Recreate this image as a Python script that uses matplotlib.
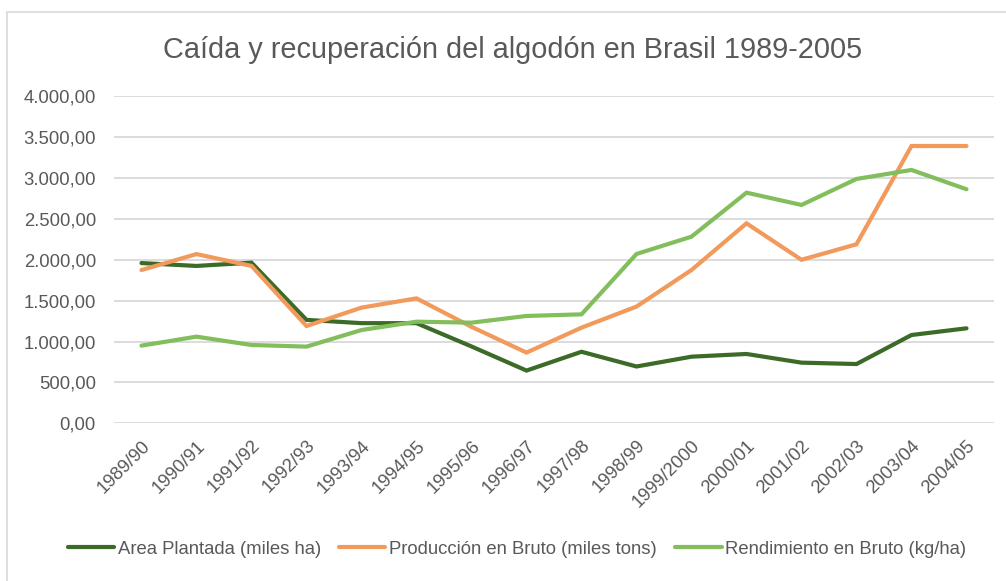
import matplotlib
matplotlib.use('Agg')
import matplotlib.pyplot as plt
from matplotlib.patches import Rectangle
from matplotlib.ticker import FuncFormatter
import numpy as np

# Data
seasons = ['1989/90', '1990/91', '1991/92', '1992/93', '1993/94', '1994/95',
           '1995/96', '1996/97', '1997/98', '1998/99', '1999/2000', '2000/01',
           '2001/02', '2002/03', '2003/04', '2004/05']
area = [1960, 1925, 1965, 1265, 1225, 1225, 940, 645, 875, 695, 815, 848,
        742, 725, 1080, 1162]
produccion = [1875, 2070, 1925, 1190, 1415, 1528, 1180, 865, 1170, 1428,
              1875, 2446, 2000, 2190, 3392, 3392]
rendimiento = [950, 1060, 958, 938, 1141, 1243, 1231, 1313, 1333, 2071,
               2283, 2821, 2671, 2989, 3099, 2863]

series_names = ['Area Plantada (miles ha)', 'Producción en Bruto (miles tons)',
                'Rendimiento en Bruto (kg/ha)']
colors = ['#3C6A27', '#F29A5B', '#82BE5C']

plt.rcParams['font.family'] = ['Liberation Sans', 'DejaVu Sans']
text_color = '#595959'

fig = plt.figure(figsize=(10.06, 5.81), dpi=100)
fig.patch.set_facecolor('white')

# chart border (Excel chart area)
fig.patches.append(Rectangle((7 / 1006, -0.1), 1.2, (581 - 12) / 581 + 0.1,
                             transform=fig.transFigure, fill=False,
                             edgecolor='#D9D9D9', linewidth=1.2))

ax = fig.add_axes([114 / 1006, (581 - 423.3) / 581, 880 / 1006, 327 / 581])

x = np.arange(len(seasons))
for vals, name, c in zip([area, produccion, rendimiento], series_names, colors):
    ax.plot(x, vals, color=c, linewidth=3, label=name, solid_capstyle='round',
            solid_joinstyle='miter')

ax.set_xlim(-0.5, len(seasons) - 0.5)
ax.set_ylim(0, 4000)
ax.set_yticks(np.arange(0, 4001, 500))


def fmt(v, pos):
    s = f'{v:,.2f}'
    return s.replace(',', 'X').replace('.', ',').replace('X', '.')


ax.yaxis.set_major_formatter(FuncFormatter(fmt))
ax.grid(axis='y', color='#D9D9D9', linewidth=1.3)
ax.set_axisbelow(True)
for s in ax.spines.values():
    s.set_visible(False)

ax.set_xticks(x)
ax.set_xticklabels(seasons, rotation=45, ha='right', rotation_mode='anchor',
                   fontsize=13.3, color=text_color)
ax.tick_params(axis='x', length=0, pad=10)
ax.tick_params(axis='y', length=0, pad=13, labelsize=13.3, labelcolor=text_color)

fig.text(513 / 1006, 1 - 50 / 581, 'Caída y recuperación del algodón en Brasil 1989-2005',
         ha='center', va='center', fontsize=20.8, color=text_color)

leg = fig.legend(loc='center', bbox_to_anchor=(517 / 1006, 1 - 549 / 581),
                 ncol=3, frameon=False, fontsize=13.3, handlelength=2.5,
                 handletextpad=0.2, columnspacing=1.0, labelcolor=text_color)

fig.savefig('out.png', dpi=100, facecolor='white')
